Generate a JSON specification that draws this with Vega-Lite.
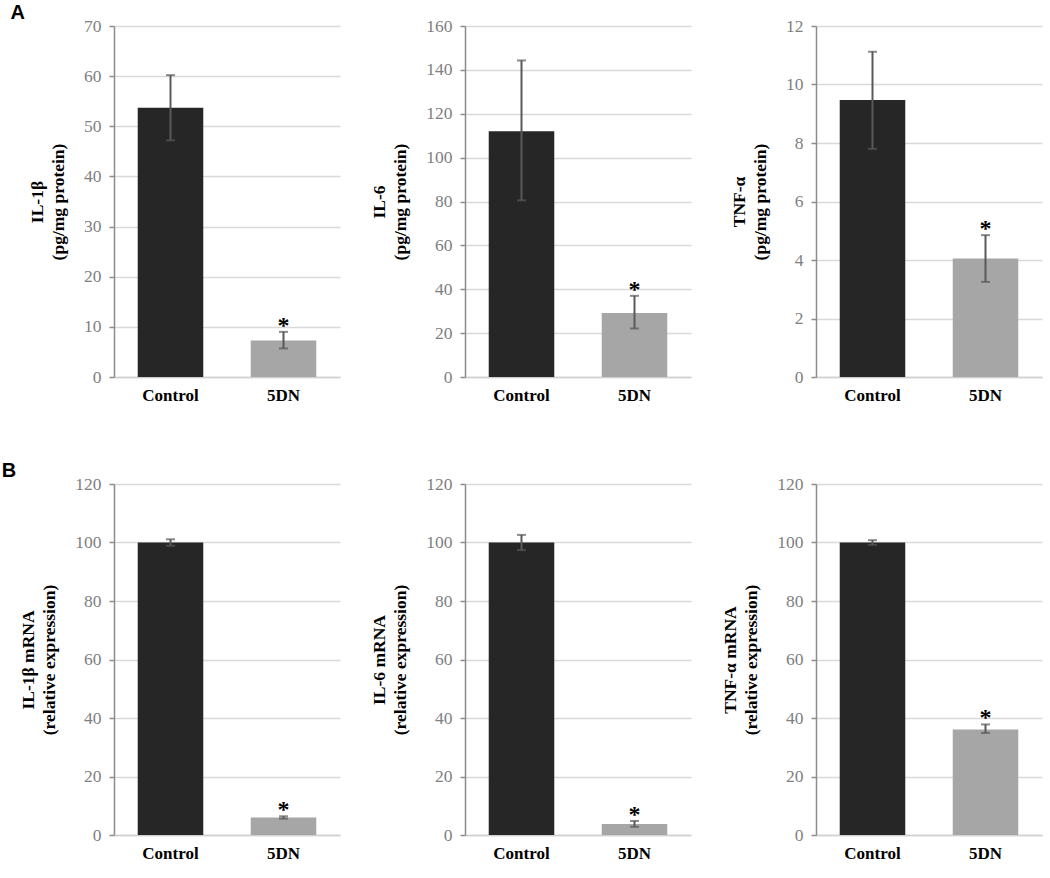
{
  "$schema": "https://vega.github.io/schema/vega-lite/v6.json",
  "background": "#ffffff",
  "padding": {"left": 1, "top": 3, "right": 5, "bottom": 5},
  "data": {"values": [
    {"panel": "A1", "group": "Control", "value": 53.7, "lo": 47.2, "hi": 60.2, "sig": ""},
    {"panel": "A1", "group": "5DN", "value": 7.3, "lo": 5.7, "hi": 9.0, "sig": "*"},
    {"panel": "A2", "group": "Control", "value": 112, "lo": 80.5, "hi": 144.3, "sig": ""},
    {"panel": "A2", "group": "5DN", "value": 29.2, "lo": 22.1, "hi": 37.0, "sig": "*"},
    {"panel": "A3", "group": "Control", "value": 9.47, "lo": 7.8, "hi": 11.12, "sig": ""},
    {"panel": "A3", "group": "5DN", "value": 4.05, "lo": 3.25, "hi": 4.85, "sig": "*"},
    {"panel": "B1", "group": "Control", "value": 100, "lo": 98.9, "hi": 101.1, "sig": ""},
    {"panel": "B1", "group": "5DN", "value": 6.0, "lo": 5.6, "hi": 6.4, "sig": "*"},
    {"panel": "B2", "group": "Control", "value": 100, "lo": 97.4, "hi": 102.6, "sig": ""},
    {"panel": "B2", "group": "5DN", "value": 3.8, "lo": 2.8, "hi": 4.8, "sig": "*"},
    {"panel": "B3", "group": "Control", "value": 100, "lo": 99.2, "hi": 100.8, "sig": ""},
    {"panel": "B3", "group": "5DN", "value": 36.1, "lo": 34.9, "hi": 37.8, "sig": "*"}
  ]},
  "config": {
    "view": {"stroke": null},
    "axis": {"labelFont": "Liberation Serif", "titleFont": "Liberation Serif"},
    "axisY": {
      "domainColor": "#8c8c8c", "domainWidth": 1.5,
      "tickColor": "#8c8c8c", "tickSize": 5, "tickWidth": 1.5,
      "gridColor": "#d9d9d9", "gridWidth": 1.5,
      "labelColor": "#808080", "labelFont": "Liberation Serif", "labelFontSize": 17.5, "labelPadding": 8,
      "titleFont": "Liberation Serif", "titleFontSize": 17.5, "titleFontWeight": "bold", "titleColor": "#000000",
      "titlePadding": 16, "titleLineHeight": 21
    },
    "axisX": {
      "domainColor": "#d0d0d0", "domainWidth": 1.5, "ticks": false,
      "labelColor": "#000000", "labelFont": "Liberation Serif", "labelFontSize": 17, "labelFontWeight": "bold",
      "labelPadding": 10, "labelAngle": 0, "title": null
    },
    "title": {"font": "Liberation Sans", "fontSize": 20, "fontWeight": "bold", "color": "#000000", "anchor": "start", "frame": "bounds"}
  },
  "columns": 3,
  "spacing": {"row": 107, "column": 125},
  "bounds": "flush",
  "concat": [
    {
      "title": {"text": "A", "dx": -18, "dy": 10},
      "width": 226, "height": 351,
      "transform": [{"filter": "datum.panel === 'A1'"}],
      "encoding": {"x": {"field": "group", "type": "nominal", "sort": ["Control", "5DN"], "scale": {"paddingInner": 0.42, "paddingOuter": 0.21}}},
      "layer": [
        {"mark": {"type": "bar"}, "encoding": {"y": {"field": "value", "type": "quantitative", "title": ["IL-1β", "(pg/mg protein)"], "scale": {"domain": [0, 70]}, "axis": {"values": [0, 10, 20, 30, 40, 50, 60, 70]}}, "color": {"field": "group", "type": "nominal", "scale": {"domain": ["Control", "5DN"], "range": ["#262626", "#a6a6a6"]}, "legend": null}}},
        {"mark": {"type": "rule", "color": "#595959", "strokeWidth": 2}, "encoding": {"y": {"field": "lo", "type": "quantitative", "title": ["IL-1β", "(pg/mg protein)"]}, "y2": {"field": "hi"}}},
        {"mark": {"type": "tick", "color": "#595959", "size": 9, "thickness": 2, "orient": "horizontal"}, "encoding": {"y": {"field": "lo", "type": "quantitative", "title": ["IL-1β", "(pg/mg protein)"]}}},
        {"mark": {"type": "tick", "color": "#595959", "size": 9, "thickness": 2, "orient": "horizontal"}, "encoding": {"y": {"field": "hi", "type": "quantitative", "title": ["IL-1β", "(pg/mg protein)"]}}},
        {"mark": {"type": "text", "font": "Liberation Serif", "fontSize": 24, "fontWeight": "bold", "color": "#000000", "baseline": "middle", "dy": -6}, "encoding": {"y": {"field": "hi", "type": "quantitative", "title": ["IL-1β", "(pg/mg protein)"]}, "text": {"field": "sig"}}}
      ]
    },
    {
      "width": 226, "height": 351,
      "transform": [{"filter": "datum.panel === 'A2'"}],
      "encoding": {"x": {"field": "group", "type": "nominal", "sort": ["Control", "5DN"], "scale": {"paddingInner": 0.42, "paddingOuter": 0.21}}},
      "layer": [
        {"mark": {"type": "bar"}, "encoding": {"y": {"field": "value", "type": "quantitative", "title": ["IL-6", "(pg/mg protein)"], "scale": {"domain": [0, 160]}, "axis": {"values": [0, 20, 40, 60, 80, 100, 120, 140, 160]}}, "color": {"field": "group", "type": "nominal", "scale": {"domain": ["Control", "5DN"], "range": ["#262626", "#a6a6a6"]}, "legend": null}}},
        {"mark": {"type": "rule", "color": "#595959", "strokeWidth": 2}, "encoding": {"y": {"field": "lo", "type": "quantitative", "title": ["IL-6", "(pg/mg protein)"]}, "y2": {"field": "hi"}}},
        {"mark": {"type": "tick", "color": "#595959", "size": 9, "thickness": 2, "orient": "horizontal"}, "encoding": {"y": {"field": "lo", "type": "quantitative", "title": ["IL-6", "(pg/mg protein)"]}}},
        {"mark": {"type": "tick", "color": "#595959", "size": 9, "thickness": 2, "orient": "horizontal"}, "encoding": {"y": {"field": "hi", "type": "quantitative", "title": ["IL-6", "(pg/mg protein)"]}}},
        {"mark": {"type": "text", "font": "Liberation Serif", "fontSize": 24, "fontWeight": "bold", "color": "#000000", "baseline": "middle", "dy": -6}, "encoding": {"y": {"field": "hi", "type": "quantitative", "title": ["IL-6", "(pg/mg protein)"]}, "text": {"field": "sig"}}}
      ]
    },
    {
      "width": 226, "height": 351,
      "transform": [{"filter": "datum.panel === 'A3'"}],
      "encoding": {"x": {"field": "group", "type": "nominal", "sort": ["Control", "5DN"], "scale": {"paddingInner": 0.42, "paddingOuter": 0.21}}},
      "layer": [
        {"mark": {"type": "bar"}, "encoding": {"y": {"field": "value", "type": "quantitative", "title": ["TNF-α", "(pg/mg protein)"], "scale": {"domain": [0, 12]}, "axis": {"values": [0, 2, 4, 6, 8, 10, 12]}}, "color": {"field": "group", "type": "nominal", "scale": {"domain": ["Control", "5DN"], "range": ["#262626", "#a6a6a6"]}, "legend": null}}},
        {"mark": {"type": "rule", "color": "#595959", "strokeWidth": 2}, "encoding": {"y": {"field": "lo", "type": "quantitative", "title": ["TNF-α", "(pg/mg protein)"]}, "y2": {"field": "hi"}}},
        {"mark": {"type": "tick", "color": "#595959", "size": 9, "thickness": 2, "orient": "horizontal"}, "encoding": {"y": {"field": "lo", "type": "quantitative", "title": ["TNF-α", "(pg/mg protein)"]}}},
        {"mark": {"type": "tick", "color": "#595959", "size": 9, "thickness": 2, "orient": "horizontal"}, "encoding": {"y": {"field": "hi", "type": "quantitative", "title": ["TNF-α", "(pg/mg protein)"]}}},
        {"mark": {"type": "text", "font": "Liberation Serif", "fontSize": 24, "fontWeight": "bold", "color": "#000000", "baseline": "middle", "dy": -6}, "encoding": {"y": {"field": "hi", "type": "quantitative", "title": ["TNF-α", "(pg/mg protein)"]}, "text": {"field": "sig"}}}
      ]
    },
    {
      "title": {"text": "B", "dx": -18, "dy": 10},
      "width": 226, "height": 351,
      "transform": [{"filter": "datum.panel === 'B1'"}],
      "encoding": {"x": {"field": "group", "type": "nominal", "sort": ["Control", "5DN"], "scale": {"paddingInner": 0.42, "paddingOuter": 0.21}}},
      "layer": [
        {"mark": {"type": "bar"}, "encoding": {"y": {"field": "value", "type": "quantitative", "title": ["IL-1β mRNA", "(relative expression)"], "scale": {"domain": [0, 120]}, "axis": {"values": [0, 20, 40, 60, 80, 100, 120]}}, "color": {"field": "group", "type": "nominal", "scale": {"domain": ["Control", "5DN"], "range": ["#262626", "#a6a6a6"]}, "legend": null}}},
        {"mark": {"type": "rule", "color": "#595959", "strokeWidth": 2}, "encoding": {"y": {"field": "lo", "type": "quantitative", "title": ["IL-1β mRNA", "(relative expression)"]}, "y2": {"field": "hi"}}},
        {"mark": {"type": "tick", "color": "#595959", "size": 9, "thickness": 2, "orient": "horizontal"}, "encoding": {"y": {"field": "lo", "type": "quantitative", "title": ["IL-1β mRNA", "(relative expression)"]}}},
        {"mark": {"type": "tick", "color": "#595959", "size": 9, "thickness": 2, "orient": "horizontal"}, "encoding": {"y": {"field": "hi", "type": "quantitative", "title": ["IL-1β mRNA", "(relative expression)"]}}},
        {"mark": {"type": "text", "font": "Liberation Serif", "fontSize": 24, "fontWeight": "bold", "color": "#000000", "baseline": "middle", "dy": -6}, "encoding": {"y": {"field": "hi", "type": "quantitative", "title": ["IL-1β mRNA", "(relative expression)"]}, "text": {"field": "sig"}}}
      ]
    },
    {
      "width": 226, "height": 351,
      "transform": [{"filter": "datum.panel === 'B2'"}],
      "encoding": {"x": {"field": "group", "type": "nominal", "sort": ["Control", "5DN"], "scale": {"paddingInner": 0.42, "paddingOuter": 0.21}}},
      "layer": [
        {"mark": {"type": "bar"}, "encoding": {"y": {"field": "value", "type": "quantitative", "title": ["IL-6 mRNA", "(relative expression)"], "scale": {"domain": [0, 120]}, "axis": {"values": [0, 20, 40, 60, 80, 100, 120]}}, "color": {"field": "group", "type": "nominal", "scale": {"domain": ["Control", "5DN"], "range": ["#262626", "#a6a6a6"]}, "legend": null}}},
        {"mark": {"type": "rule", "color": "#595959", "strokeWidth": 2}, "encoding": {"y": {"field": "lo", "type": "quantitative", "title": ["IL-6 mRNA", "(relative expression)"]}, "y2": {"field": "hi"}}},
        {"mark": {"type": "tick", "color": "#595959", "size": 9, "thickness": 2, "orient": "horizontal"}, "encoding": {"y": {"field": "lo", "type": "quantitative", "title": ["IL-6 mRNA", "(relative expression)"]}}},
        {"mark": {"type": "tick", "color": "#595959", "size": 9, "thickness": 2, "orient": "horizontal"}, "encoding": {"y": {"field": "hi", "type": "quantitative", "title": ["IL-6 mRNA", "(relative expression)"]}}},
        {"mark": {"type": "text", "font": "Liberation Serif", "fontSize": 24, "fontWeight": "bold", "color": "#000000", "baseline": "middle", "dy": -6}, "encoding": {"y": {"field": "hi", "type": "quantitative", "title": ["IL-6 mRNA", "(relative expression)"]}, "text": {"field": "sig"}}}
      ]
    },
    {
      "width": 226, "height": 351,
      "transform": [{"filter": "datum.panel === 'B3'"}],
      "encoding": {"x": {"field": "group", "type": "nominal", "sort": ["Control", "5DN"], "scale": {"paddingInner": 0.42, "paddingOuter": 0.21}}},
      "layer": [
        {"mark": {"type": "bar"}, "encoding": {"y": {"field": "value", "type": "quantitative", "title": ["TNF-α mRNA", "(relative expression)"], "scale": {"domain": [0, 120]}, "axis": {"values": [0, 20, 40, 60, 80, 100, 120]}}, "color": {"field": "group", "type": "nominal", "scale": {"domain": ["Control", "5DN"], "range": ["#262626", "#a6a6a6"]}, "legend": null}}},
        {"mark": {"type": "rule", "color": "#595959", "strokeWidth": 2}, "encoding": {"y": {"field": "lo", "type": "quantitative", "title": ["TNF-α mRNA", "(relative expression)"]}, "y2": {"field": "hi"}}},
        {"mark": {"type": "tick", "color": "#595959", "size": 9, "thickness": 2, "orient": "horizontal"}, "encoding": {"y": {"field": "lo", "type": "quantitative", "title": ["TNF-α mRNA", "(relative expression)"]}}},
        {"mark": {"type": "tick", "color": "#595959", "size": 9, "thickness": 2, "orient": "horizontal"}, "encoding": {"y": {"field": "hi", "type": "quantitative", "title": ["TNF-α mRNA", "(relative expression)"]}}},
        {"mark": {"type": "text", "font": "Liberation Serif", "fontSize": 24, "fontWeight": "bold", "color": "#000000", "baseline": "middle", "dy": -6}, "encoding": {"y": {"field": "hi", "type": "quantitative", "title": ["TNF-α mRNA", "(relative expression)"]}, "text": {"field": "sig"}}}
      ]
    }
  ]
}
